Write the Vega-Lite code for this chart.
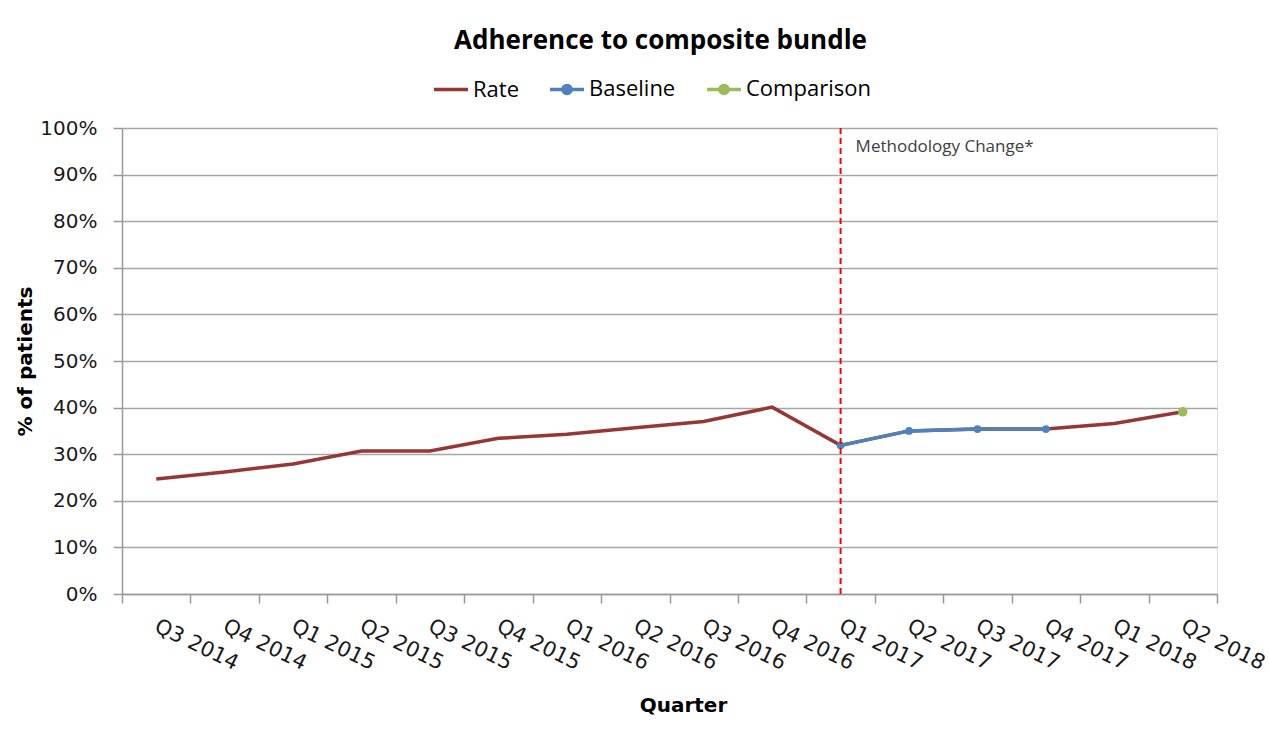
{
  "$schema": "https://vega.github.io/schema/vega-lite/v6.json",
  "width": 1095,
  "height": 466,
  "autosize": {"type": "none"},
  "padding": {"left": 122, "top": 128, "right": 52, "bottom": 146},
  "background": "white",
  "title": {
    "text": "Adherence to composite bundle",
    "font": "Open Sans",
    "fontSize": 26,
    "fontWeight": "bold",
    "color": "#000000",
    "anchor": "middle",
    "dx": -9,
    "offset": 16
  },
  "datasets": {
    "series": [
      {"quarter": "Q3 2014", "series": "Rate", "value": 0.247},
      {"quarter": "Q4 2014", "series": "Rate", "value": 0.262},
      {"quarter": "Q1 2015", "series": "Rate", "value": 0.279},
      {"quarter": "Q2 2015", "series": "Rate", "value": 0.307},
      {"quarter": "Q3 2015", "series": "Rate", "value": 0.307},
      {"quarter": "Q4 2015", "series": "Rate", "value": 0.334},
      {"quarter": "Q1 2016", "series": "Rate", "value": 0.343},
      {"quarter": "Q2 2016", "series": "Rate", "value": 0.357},
      {"quarter": "Q3 2016", "series": "Rate", "value": 0.370},
      {"quarter": "Q4 2016", "series": "Rate", "value": 0.401},
      {"quarter": "Q1 2017", "series": "Rate", "value": 0.319},
      {"quarter": "Q2 2017", "series": "Rate", "value": 0.350},
      {"quarter": "Q3 2017", "series": "Rate", "value": 0.354},
      {"quarter": "Q4 2017", "series": "Rate", "value": 0.354},
      {"quarter": "Q1 2018", "series": "Rate", "value": 0.366},
      {"quarter": "Q2 2018", "series": "Rate", "value": 0.391},
      {"quarter": "Q1 2017", "series": "Baseline", "value": 0.319},
      {"quarter": "Q2 2017", "series": "Baseline", "value": 0.350},
      {"quarter": "Q3 2017", "series": "Baseline", "value": 0.354},
      {"quarter": "Q4 2017", "series": "Baseline", "value": 0.354},
      {"quarter": "Q2 2018", "series": "Comparison", "value": 0.391}
    ],
    "notes": [
      {"quarter": "Q1 2017", "note": "Methodology Change*"}
    ]
  },
  "encoding": {
    "x": {
      "field": "quarter",
      "type": "ordinal",
      "scale": {
        "type": "band",
        "paddingInner": 0,
        "paddingOuter": 0,
        "domain": ["Q3 2014", "Q4 2014", "Q1 2015", "Q2 2015", "Q3 2015", "Q4 2015", "Q1 2016", "Q2 2016", "Q3 2016", "Q4 2016", "Q1 2017", "Q2 2017", "Q3 2017", "Q4 2017", "Q1 2018", "Q2 2018"]
      },
      "axis": {
        "title": "Quarter",
        "titleFont": "DejaVu Sans",
        "titleFontSize": 20,
        "titleFontWeight": "bold",
        "titleColor": "#000000",
        "titlePadding": 22,
        "titleX": 561,
        "labelAngle": 26,
        "labelAlign": "left",
        "labelBaseline": "top",
        "labelFont": "DejaVu Sans",
        "labelFontSize": 21,
        "labelColor": "#1a1a1a",
        "labelPadding": 12,
        "labelOffset": 4,
        "labelOverlap": false,
        "labelBound": false,
        "labelFlush": false,
        "tickSize": 9,
        "tickWidth": 1.5,
        "tickColor": "#999999",
        "tickBand": "extent",
        "domainColor": "#999999",
        "domainWidth": 1.5,
        "grid": false
      }
    }
  },
  "layer": [
    {
      "data": {"name": "series"},
      "transform": [{"filter": "datum.series === 'Rate'"}],
      "mark": {"type": "line", "strokeWidth": 3.5, "interpolate": "linear"},
      "encoding": {
        "y": {
          "field": "value",
          "type": "quantitative",
          "scale": {"domain": [0, 1], "nice": false},
          "axis": {
            "title": "% of patients",
            "titleFont": "DejaVu Sans",
            "titleFontSize": 20,
            "titleFontWeight": "bold",
            "titleColor": "#000000",
            "titlePadding": 4,
            "values": [0, 0.1, 0.2, 0.3, 0.4, 0.5, 0.6, 0.7, 0.8, 0.9, 1],
            "format": ".0%",
            "labelFont": "DejaVu Sans",
            "labelFontSize": 20,
            "labelColor": "#1a1a1a",
            "labelPadding": 16,
            "tickSize": 9,
            "tickWidth": 1.5,
            "tickColor": "#999999",
            "domainColor": "#999999",
            "domainWidth": 1.5,
            "grid": true,
            "gridColor": "#a6a6a6",
            "gridWidth": 1.5
          }
        },
        "color": {
          "field": "series",
          "type": "nominal",
          "scale": {"domain": ["Rate", "Baseline", "Comparison"], "range": ["#953735", "#4f81bd", "#9bbb59"]},
          "legend": {
            "title": null,
            "orient": "none",
            "direction": "horizontal",
            "legendX": 310,
            "legendY": -58,
            "padding": 0,
            "labelFont": "Open Sans",
            "labelFontSize": 22,
            "labelColor": "#000000",
            "labelOffset": 3,
            "columnPadding": 24,
            "symbolType": "stroke",
            "symbolSize": 1156,
            "symbolStrokeWidth": 3.5,
            "encode": {
              "symbols": {
                "update": {
                  "shape": {"signal": "datum.value === 'Rate' ? 'stroke' : 'M-1,0H1M-0.24,0A0.24,0.24,0,1,0,0.24,0A0.24,0.24,0,1,0,-0.24,0Z'"},
                  "fill": {"signal": "datum.value === 'Rate' ? 'transparent' : scale('color', datum.value)"}
                }
              }
            }
          }
        }
      }
    },
    {
      "data": {"name": "series"},
      "transform": [{"filter": "datum.series === 'Baseline'"}],
      "mark": {"type": "line", "strokeWidth": 3.5},
      "encoding": {
        "y": {"field": "value", "type": "quantitative"},
        "color": {"field": "series", "type": "nominal"}
      }
    },
    {
      "data": {"name": "series"},
      "transform": [{"filter": "datum.series !== 'Rate'"}],
      "mark": {"type": "point", "filled": true, "opacity": 1},
      "encoding": {
        "y": {"field": "value", "type": "quantitative"},
        "color": {"field": "series", "type": "nominal"},
        "size": {"condition": {"test": "datum.series === 'Comparison'", "value": 90}, "value": 60}
      }
    },
    {
      "data": {"name": "notes"},
      "mark": {"type": "rule", "color": "#ff0000", "strokeWidth": 2, "strokeDash": [6, 4]},
      "encoding": {}
    },
    {
      "data": {"name": "notes"},
      "mark": {"type": "text", "align": "left", "baseline": "middle", "dx": 15, "font": "Open Sans", "fontSize": 17, "color": "#404040"},
      "encoding": {
        "y": {"datum": 0.959, "type": "quantitative"},
        "text": {"field": "note"}
      }
    }
  ]
}
